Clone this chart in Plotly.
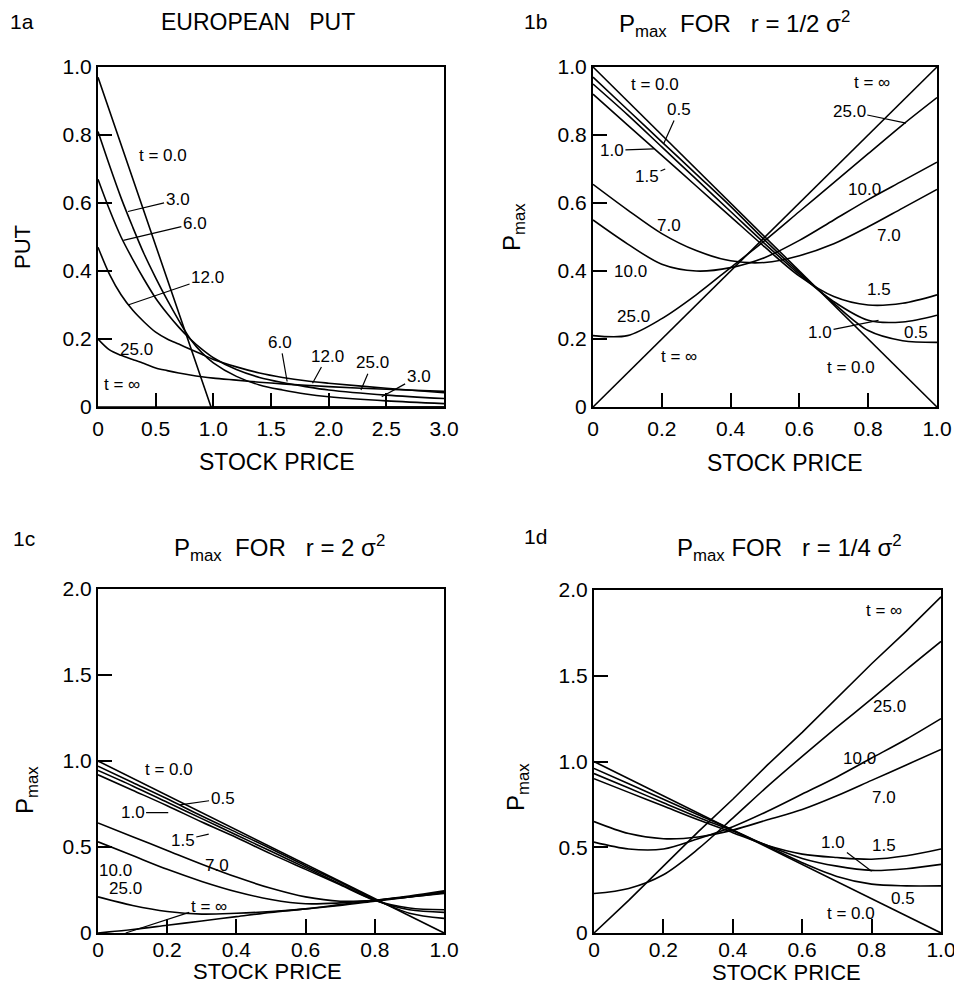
import plotly.graph_objects as go

W, H = 962, 985
OFF = 8  # the page body adds an 8 px margin around the figure
FONT = "Liberation Sans"

# ---------------- data ----------------
# Panel 1a : European put vs stock price
put_S = [0, 0.1, 0.2, 0.3, 0.4, 0.5, 0.6, 0.7, 0.8, 0.9, 1.0, 1.2, 1.4, 1.6, 1.8, 2.0, 2.5, 3.0]
put_t0_S = [0, 0.98, 3.0]
put_t0 = [0.97, 0.0, 0.0]
put_t3 = [0.81, 0.71, 0.615, 0.53, 0.45, 0.38, 0.315, 0.255, 0.2, 0.16, 0.13, 0.09, 0.065, 0.05, 0.038, 0.03, 0.018, 0.01]
put_t6 = [0.67, 0.58, 0.5, 0.435, 0.375, 0.32, 0.275, 0.235, 0.2, 0.17, 0.145, 0.11, 0.087, 0.072, 0.06, 0.05, 0.035, 0.025]
put_t12 = [0.47, 0.39, 0.33, 0.285, 0.25, 0.22, 0.2, 0.185, 0.17, 0.155, 0.14, 0.118, 0.1, 0.087, 0.077, 0.07, 0.055, 0.042]
put_t25 = [0.2, 0.168, 0.152, 0.14, 0.128, 0.115, 0.107, 0.1, 0.094, 0.089, 0.085, 0.079, 0.073, 0.068, 0.064, 0.06, 0.052, 0.046]
put_tinf_S = [0, 3.0]
put_tinf = [0.0, 0.0]

# Shared stock-price grid for panels 1b, 1c, 1d
grid_S = [0, 0.1, 0.2, 0.3, 0.4, 0.5, 0.6, 0.7, 0.8, 0.9, 1.0]

# Panel 1b : Pmax for r = 1/2 sigma^2
b_t0 = [1.0, 0.9, 0.8, 0.7, 0.6, 0.5, 0.4, 0.3, 0.2, 0.1, 0.0]
b_t05 = [0.97, 0.875, 0.78, 0.685, 0.59, 0.49, 0.395, 0.305, 0.225, 0.195, 0.19]
b_t10 = [0.95, 0.86, 0.765, 0.67, 0.575, 0.48, 0.39, 0.31, 0.255, 0.25, 0.27]
b_t15 = [0.92, 0.83, 0.74, 0.65, 0.56, 0.47, 0.385, 0.325, 0.3, 0.305, 0.33]
b_t7 = [0.655, 0.58, 0.51, 0.46, 0.43, 0.425, 0.445, 0.48, 0.53, 0.585, 0.64]
b_t10_0 = [0.55, 0.48, 0.42, 0.40, 0.41, 0.44, 0.49, 0.55, 0.61, 0.665, 0.72]
b_t25 = [0.21, 0.21, 0.26, 0.33, 0.41, 0.49, 0.575, 0.66, 0.745, 0.83, 0.91]
b_tinf = [0.0, 0.1, 0.2, 0.3, 0.4, 0.5, 0.6, 0.7, 0.8, 0.9, 1.0]

# Panel 1c : Pmax for r = 2 sigma^2
c_t0 = [1.0, 0.9, 0.8, 0.7, 0.6, 0.5, 0.4, 0.3, 0.2, 0.1, 0.0]
c_t05 = [0.97, 0.875, 0.78, 0.68, 0.585, 0.49, 0.39, 0.295, 0.195, 0.115, 0.085]
c_t10 = [0.945, 0.855, 0.76, 0.665, 0.57, 0.475, 0.38, 0.285, 0.19, 0.135, 0.12]
c_t15 = [0.92, 0.83, 0.74, 0.645, 0.555, 0.46, 0.37, 0.28, 0.19, 0.145, 0.135]
c_t7 = [0.64, 0.56, 0.48, 0.40, 0.325, 0.26, 0.21, 0.185, 0.19, 0.21, 0.23]
c_t10_0 = [0.53, 0.45, 0.37, 0.30, 0.24, 0.195, 0.17, 0.175, 0.19, 0.21, 0.235]
c_t25 = [0.21, 0.16, 0.125, 0.11, 0.115, 0.125, 0.14, 0.16, 0.185, 0.21, 0.24]
c_tinf = [0.0, 0.02, 0.045, 0.07, 0.095, 0.12, 0.14, 0.165, 0.19, 0.215, 0.245]

# Panel 1d : Pmax for r = 1/4 sigma^2
d_t0 = [1.0, 0.9, 0.8, 0.7, 0.6, 0.5, 0.4, 0.3, 0.2, 0.1, 0.0]
d_t05 = [0.96, 0.87, 0.78, 0.69, 0.6, 0.505, 0.41, 0.33, 0.285, 0.275, 0.275]
d_t10 = [0.93, 0.845, 0.76, 0.675, 0.595, 0.51, 0.435, 0.39, 0.365, 0.375, 0.40]
d_t15 = [0.90, 0.82, 0.74, 0.66, 0.585, 0.51, 0.46, 0.44, 0.43, 0.45, 0.49]
d_t7 = [0.65, 0.58, 0.55, 0.56, 0.60, 0.66, 0.72, 0.80, 0.89, 0.98, 1.07]
d_t10_0 = [0.53, 0.49, 0.49, 0.55, 0.62, 0.71, 0.81, 0.91, 1.02, 1.13, 1.25]
d_t25 = [0.23, 0.26, 0.34, 0.49, 0.67, 0.855, 1.03, 1.20, 1.365, 1.535, 1.70]
d_tinf = [0.0, 0.19, 0.39, 0.59, 0.78, 0.98, 1.17, 1.37, 1.57, 1.76, 1.96]

# Tick labels
a_xticks = [0, 0.5, 1.0, 1.5, 2.0, 2.5, 3.0]
a_xtext = ["0", "0.5", "1.0", "1.5", "2.0", "2.5", "3.0"]
unit_ticks = [0, 0.2, 0.4, 0.6, 0.8, 1.0]
unit_text = ["0", "0.2", "0.4", "0.6", "0.8", "1.0"]
two_ticks = [0, 0.5, 1.0, 1.5, 2.0]
two_text = ["0", "0.5", "1.0", "1.5", "2.0"]

# ---------------- figure ----------------
fig = go.Figure()


def add(xa, ya, xs, ys, shape="spline"):
    fig.add_trace(go.Scatter(
        x=xs, y=ys, xaxis=xa, yaxis=ya, mode="lines",
        line=dict(color="black", width=1.6, shape=shape, smoothing=0.9),
        showlegend=False, hoverinfo="skip"))


# 1a
add("x", "y", put_t0_S, put_t0, "linear")
for ys in (put_t3, put_t6, put_t12, put_t25):
    add("x", "y", put_S, ys)
add("x", "y", put_tinf_S, put_tinf, "linear")

# 1b
add("x2", "y2", grid_S, b_t0, "linear")
add("x2", "y2", grid_S, b_tinf, "linear")
for ys in (b_t05, b_t10, b_t15, b_t7, b_t10_0, b_t25):
    add("x2", "y2", grid_S, ys)

# 1c
add("x3", "y3", grid_S, c_t0, "linear")
for ys in (c_t05, c_t10, c_t15, c_t7, c_t10_0, c_t25, c_tinf):
    add("x3", "y3", grid_S, ys)

# 1d
add("x4", "y4", grid_S, d_t0, "linear")
add("x4", "y4", grid_S, d_tinf, "linear")
for ys in (d_t05, d_t10, d_t15, d_t7, d_t10_0, d_t25):
    add("x4", "y4", grid_S, ys)


def px_x(px):
    return (px - OFF) / W


def px_y(py):
    return 1 - (py - OFF) / H


def box(px0, px1, py0, py1):
    return [px_x(px0), px_x(px1)], [px_y(py1), px_y(py0)]


def axis_style(rng, tv, tt, dom, anchor, standoff=0):
    return dict(range=rng, domain=dom, anchor=anchor, tickvals=tv, ticktext=tt,
                showline=True, mirror=True, linecolor="black", linewidth=2,
                ticks="inside", ticklen=14, tickwidth=1.5, tickcolor="black",
                showgrid=False, zeroline=False, fixedrange=True, automargin=False,
                ticklabelstandoff=standoff,
                tickfont=dict(family=FONT, size=21, color="black"))


ax_a, ay_a = box(98, 444, 67, 407)
ax_b, ay_b = box(593, 937, 67, 407)
ax_c, ay_c = box(98, 444, 589, 933)
ax_d, ay_d = box(594, 941, 590, 933)

fig.update_layout(
    width=W, height=H, margin=dict(l=0, r=0, t=0, b=0, pad=0, autoexpand=False),
    paper_bgcolor="white", plot_bgcolor="white",
    xaxis=axis_style([0, 3], a_xticks, a_xtext, ax_a, "y", 2),
    yaxis=axis_style([0, 1], unit_ticks, unit_text, ay_a, "x"),
    xaxis2=axis_style([0, 1], unit_ticks, unit_text, ax_b, "y2", 2),
    yaxis2=axis_style([0, 1], unit_ticks, unit_text, ay_b, "x2"),
    xaxis3=axis_style([0, 1], unit_ticks, unit_text, ax_c, "y3", -3),
    yaxis3=axis_style([0, 2], two_ticks, two_text, ay_c, "x3"),
    xaxis4=axis_style([0, 1], unit_ticks, unit_text, ax_d, "y4", -3),
    yaxis4=axis_style([0, 2], two_ticks, two_text, ay_d, "x4"),
)

ann = []


def paper_text(text, px, py, size=20, angle=0):
    ann.append(dict(text=text, x=px_x(px), y=px_y(py), xref="paper", yref="paper",
                    showarrow=False, textangle=angle, xanchor="center", yanchor="middle",
                    font=dict(family=FONT, size=size, color="black")))


NB = "\u00a0"
# panel tags and titles
paper_text("1a", 22, 22, 21)
paper_text("EUROPEAN" + NB * 3 + "PUT", 258, 22, 23)
paper_text("1b", 535, 22, 21)
paper_text("P<sub>max</sub>" + NB * 2 + "FOR" + NB * 3 + "r = 1/2 σ<sup>2</sup>", 734, 24, 24)
paper_text("1c", 24, 538, 21)
paper_text("P<sub>max</sub>" + NB * 2 + "FOR" + NB * 3 + "r = 2 σ<sup>2</sup>", 279, 548, 24)
paper_text("1d", 535, 536, 21)
paper_text("P<sub>max</sub>" + NB + "FOR" + NB * 3 + "r = 1/4 σ<sup>2</sup>", 789, 548, 24)

# axis titles
paper_text("STOCK PRICE", 277, 462, 23)
paper_text("STOCK PRICE", 785, 463, 23)
paper_text("STOCK PRICE", 267, 971, 22)
paper_text("STOCK PRICE", 786, 972, 22)
paper_text("PUT", 22, 247, 22, -90)
paper_text("P<sub>max</sub>", 514, 227, 24, -90)
paper_text("P<sub>max</sub>", 26, 790, 24, -90)
paper_text("P<sub>max</sub>", 517, 787, 24, -90)


def lab(text, xr, yr, x, y, tip=None, size=17):
    d = dict(text=text, xref=xr, yref=yr, font=dict(family=FONT, size=size, color="black"))
    if tip is None:
        d.update(x=x, y=y, showarrow=False)
    else:
        d.update(x=tip[0], y=tip[1], ax=x, ay=y, axref=xr, ayref=yr, showarrow=True,
                 arrowhead=0, arrowwidth=1.2, arrowcolor="black", standoff=0)
    ann.append(d)


# curve labels 1a
a_labels = [
    ("t = 0.0", 0.56, 0.74, None), ("3.0", 0.69, 0.61, (0.26, 0.575)),
    ("6.0", 0.84, 0.54, (0.22, 0.49)), ("12.0", 0.95, 0.38, (0.26, 0.30)),
    ("25.0", 0.33, 0.17, None), ("t = ∞", 0.21, 0.065, None),
    ("6.0", 1.58, 0.19, (1.64, 0.075)), ("12.0", 1.99, 0.15, (1.86, 0.07)),
    ("25.0", 2.38, 0.13, (2.28, 0.05)), ("3.0", 2.78, 0.09, (2.46, 0.03)),
]
for t, x, y, tip in a_labels:
    lab(t, "x", "y", x, y, tip)

b_labels = [
    ("t = 0.0", 0.18, 0.95, None), ("0.5", 0.25, 0.875, (0.206, 0.776)),
    ("1.0", 0.055, 0.755, (0.177, 0.759)), ("1.5", 0.157, 0.677, (0.21, 0.70)),
    ("7.0", 0.22, 0.535, None), ("10.0", 0.11, 0.40, None), ("25.0", 0.117, 0.265, None),
    ("t = ∞", 0.25, 0.148, None), ("t = ∞", 0.81, 0.955, None),
    ("25.0", 0.745, 0.87, (0.91, 0.835)), ("10.0", 0.79, 0.64, None), ("7.0", 0.86, 0.505, None),
    ("1.5", 0.83, 0.345, None), ("1.0", 0.66, 0.22, (0.83, 0.255)), ("0.5", 0.94, 0.22, None),
    ("t = 0.0", 0.75, 0.115, None),
]
for t, x, y, tip in b_labels:
    lab(t, "x2", "y2", x, y, tip)

c_labels = [
    ("t = 0.0", 0.205, 0.95, None), ("0.5", 0.36, 0.78, (0.237, 0.745)),
    ("1.0", 0.10, 0.70, (0.203, 0.70)), ("1.5", 0.245, 0.54, (0.32, 0.575)),
    ("7.0", 0.345, 0.395, None), ("10.0", 0.052, 0.365, None), ("25.0", 0.08, 0.26, None),
    ("t = ∞", 0.32, 0.157, (0.08, 0.0)),
]
for t, x, y, tip in c_labels:
    lab(t, "x3", "y3", x, y, tip)

d_labels = [
    ("t = ∞", 0.835, 1.88, None), ("25.0", 0.853, 1.32, None), ("10.0", 0.765, 1.02, None),
    ("7.0", 0.835, 0.79, None), ("1.0", 0.69, 0.53, (0.80, 0.36)), ("1.5", 0.835, 0.51, None),
    ("0.5", 0.89, 0.20, None), ("t = 0.0", 0.74, 0.115, None),
]
for t, x, y, tip in d_labels:
    lab(t, "x4", "y4", x, y, tip)

fig.update_layout(annotations=ann)
fig.write_html("out.html")
